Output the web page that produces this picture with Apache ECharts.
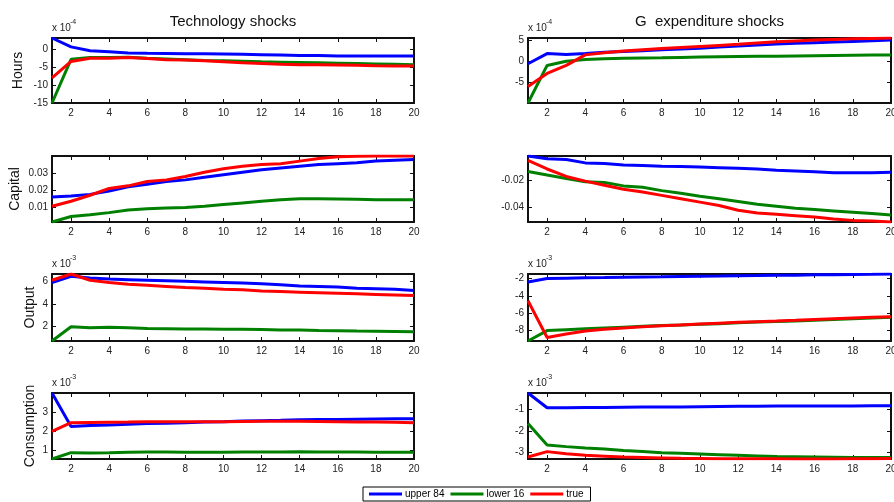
<!DOCTYPE html>
<html>
<head>
<meta charset="utf-8">
<script src="https://cdn.jsdelivr.net/npm/echarts@6/dist/echarts.min.js"></script>
<style>
html,body{margin:0;padding:0;background:#fff;}
#chart{width:894px;height:502px;}
</style>
</head>
<body>
<div id="chart"></div>
<script>
// ---------- data ----------
const periods = [1,2,3,4,5,6,7,8,9,10,11,12,13,14,15,16,17,18,19,20];
const seriesNames = ['upper 84', 'lower 16', 'true'];
const columnTitles = ['Technology shocks', 'G  expenditure shocks'];
const rowLabels = ['Hours', 'Capital', 'Output', 'Consumption'];
const rowExponents = ['-4', null, '-3', '-3'];
const xTicks = [2,4,6,8,10,12,14,16,18,20];

// Hours (x 10^-4)
const hoursTechUpper = [3.3,0.8,-0.3,-0.6,-0.9,-1.0,-1.05,-1.1,-1.15,-1.2,-1.3,-1.4,-1.5,-1.6,-1.65,-1.75,-1.8,-1.8,-1.8,-1.8];
const hoursTechLower = [-15.0,-2.7,-2.2,-2.2,-2.1,-2.4,-2.6,-2.8,-3.0,-3.1,-3.25,-3.4,-3.5,-3.6,-3.7,-3.8,-3.9,-4.0,-4.1,-4.2];
const hoursTechTrue  = [-7.9,-3.3,-2.4,-2.4,-2.2,-2.5,-2.8,-2.9,-3.1,-3.4,-3.7,-3.9,-4.1,-4.2,-4.25,-4.3,-4.4,-4.5,-4.55,-4.6];
const hoursGUpper = [-0.5,1.9,1.7,1.9,2.2,2.4,2.6,2.8,3.0,3.2,3.45,3.7,3.95,4.2,4.35,4.5,4.65,4.8,4.95,5.1];
const hoursGLower = [-9.8,-0.9,0.1,0.5,0.7,0.8,0.85,0.9,1.0,1.1,1.15,1.2,1.25,1.3,1.35,1.4,1.45,1.5,1.55,1.6];
const hoursGTrue  = [-5.9,-2.8,-0.9,1.6,2.1,2.5,2.8,3.1,3.35,3.6,3.85,4.1,4.4,4.7,4.9,5.1,5.25,5.4,5.5,5.6];

// Capital
const capTechUpper = [0.016,0.0165,0.0175,0.0195,0.022,0.0235,0.025,0.026,0.0275,0.029,0.0305,0.032,0.033,0.034,0.035,0.0355,0.036,0.037,0.0375,0.038];
const capTechLower = [0.0013,0.0045,0.0055,0.0068,0.0083,0.009,0.0095,0.0098,0.0105,0.0115,0.0125,0.0135,0.0143,0.015,0.0149,0.0148,0.0146,0.0144,0.0143,0.0143];
const capTechTrue  = [0.0105,0.0135,0.017,0.021,0.0225,0.025,0.026,0.028,0.0305,0.0325,0.034,0.035,0.0355,0.037,0.0385,0.0395,0.0398,0.040,0.040,0.040];
const capGUpper = [-0.0024,-0.0045,-0.005,-0.0075,-0.008,-0.009,-0.0095,-0.010,-0.0102,-0.0105,-0.011,-0.0115,-0.012,-0.013,-0.0135,-0.014,-0.0148,-0.0148,-0.0147,-0.0145];
const capGLower = [-0.0139,-0.0165,-0.019,-0.0215,-0.022,-0.0245,-0.0255,-0.028,-0.030,-0.0322,-0.034,-0.036,-0.038,-0.0395,-0.041,-0.042,-0.043,-0.044,-0.045,-0.046];
const capGTrue  = [-0.0056,-0.012,-0.0175,-0.021,-0.024,-0.027,-0.029,-0.0315,-0.034,-0.0365,-0.039,-0.0425,-0.0445,-0.0455,-0.0465,-0.0475,-0.049,-0.050,-0.0505,-0.0512];

// Output (x 10^-3)
const outTechUpper = [5.9,6.45,6.3,6.2,6.15,6.1,6.05,6.0,5.95,5.9,5.85,5.8,5.7,5.6,5.55,5.5,5.4,5.35,5.3,5.2];
const outTechLower = [0.74,2.0,1.9,1.95,1.9,1.85,1.83,1.8,1.8,1.78,1.78,1.75,1.72,1.7,1.67,1.65,1.62,1.6,1.58,1.55];
const outTechTrue  = [6.1,6.65,6.1,5.9,5.75,5.65,5.55,5.45,5.4,5.3,5.25,5.15,5.1,5.05,5.0,4.95,4.9,4.85,4.8,4.75];
const outGUpper = [-2.4,-2.0,-1.95,-1.9,-1.88,-1.85,-1.82,-1.8,-1.75,-1.72,-1.7,-1.67,-1.65,-1.62,-1.6,-1.57,-1.55,-1.52,-1.5,-1.47];
const outGLower = [-9.2,-8.0,-7.9,-7.8,-7.7,-7.6,-7.5,-7.42,-7.35,-7.27,-7.2,-7.1,-7.02,-6.95,-6.88,-6.8,-6.72,-6.63,-6.55,-6.47];
const outGTrue  = [-4.55,-8.8,-8.4,-8.05,-7.85,-7.7,-7.55,-7.45,-7.35,-7.25,-7.15,-7.05,-6.97,-6.9,-6.82,-6.72,-6.63,-6.55,-6.47,-6.4];

// Consumption (x 10^-3)
const consTechUpper = [4.0,2.25,2.3,2.33,2.36,2.4,2.42,2.45,2.48,2.5,2.53,2.55,2.57,2.6,2.61,2.62,2.63,2.64,2.65,2.65];
const consTechLower = [0.55,0.88,0.87,0.88,0.9,0.92,0.91,0.9,0.9,0.9,0.91,0.92,0.92,0.93,0.92,0.91,0.91,0.9,0.9,0.9];
const consTechTrue  = [2.0,2.45,2.46,2.47,2.48,2.5,2.5,2.5,2.5,2.5,2.51,2.52,2.52,2.52,2.51,2.5,2.49,2.48,2.47,2.45];
const consGUpper = [-0.25,-0.93,-0.93,-0.92,-0.92,-0.91,-0.9,-0.9,-0.89,-0.88,-0.87,-0.86,-0.86,-0.85,-0.85,-0.85,-0.85,-0.85,-0.84,-0.84];
const consGLower = [-1.65,-2.65,-2.72,-2.78,-2.83,-2.9,-2.95,-3.0,-3.03,-3.06,-3.09,-3.12,-3.15,-3.18,-3.19,-3.2,-3.21,-3.22,-3.22,-3.22];
const consGTrue  = [-3.2,-2.95,-3.05,-3.12,-3.16,-3.2,-3.22,-3.24,-3.26,-3.27,-3.28,-3.28,-3.28,-3.28,-3.29,-3.29,-3.29,-3.28,-3.28,-3.27];

// y tick labels per panel [row][col]
const yTicks = [
  [[-15,-10,-5,0], [-5,0,5]],
  [[0.01,0.02,0.03], [-0.04,-0.02]],
  [[2,4,6], [-8,-6,-4,-2]],
  [[1,2,3], [-3,-2,-1]]
];
const panelData = [
  [[hoursTechUpper,hoursTechLower,hoursTechTrue],[hoursGUpper,hoursGLower,hoursGTrue]],
  [[capTechUpper,capTechLower,capTechTrue],[capGUpper,capGLower,capGTrue]],
  [[outTechUpper,outTechLower,outTechTrue],[outGUpper,outGLower,outGTrue]],
  [[consTechUpper,consTechLower,consTechTrue],[consGUpper,consGLower,consGTrue]]
];

// ---------- layout / style ----------
const colors = ['#0000ff', '#008000', '#ff0000'];
const FONT = '"Liberation Sans", Arial, Helvetica, sans-serif';
const colLeft = [52, 528];
const colWidth = [362, 363];
const rowTop = [38, 156, 274, 393];
const rowHeight = [65, 66, 67, 66];
const ylabelX = [18, 15.5, 30, 30];

const grids = [], xAxes = [], yAxes = [], series = [], graphics = [];

function fmt(v){ return String(+v.toFixed(6)); }

for (let r = 0; r < 4; r++) {
  for (let c = 0; c < 2; c++) {
    const gi = grids.length;
    grids.push({left: colLeft[c], top: rowTop[r], width: colWidth[c], height: rowHeight[r],
                containLabel: false, outerBoundsMode: 'none', show: false});
    const d = panelData[r][c];
    const all = d[0].concat(d[1], d[2]);
    const ymin = Math.min.apply(null, all), ymax = Math.max.apply(null, all);
    const axisLine = {show: true, onZero: false, lineStyle: {color: '#111', width: 2}};
    const tickBase = {show: true, inside: true, length: 4, lineStyle: {color: '#111', width: 1}};
    // bottom x
    xAxes.push({gridIndex: gi, type: 'value', min: 1, max: 20, position: 'bottom',
      axisLine: axisLine, splitLine: {show: false},
      axisTick: Object.assign({customValues: xTicks}, tickBase),
      axisLabel: {customValues: xTicks, fontSize: 10, color: '#222', fontFamily: FONT, margin: 5, formatter: fmt}});
    // top x (box)
    xAxes.push({gridIndex: gi, type: 'value', min: 1, max: 20, position: 'top',
      axisLine: axisLine, splitLine: {show: false},
      axisTick: Object.assign({customValues: xTicks}, tickBase),
      axisLabel: {show: false}});
    const yt = yTicks[r][c];
    yAxes.push({gridIndex: gi, type: 'value', min: ymin, max: ymax, position: 'left',
      axisLine: axisLine, splitLine: {show: false},
      axisTick: Object.assign({customValues: yt}, tickBase),
      axisLabel: {customValues: yt, fontSize: 10, color: '#222', fontFamily: FONT, margin: 4, formatter: fmt}});
    yAxes.push({gridIndex: gi, type: 'value', min: ymin, max: ymax, position: 'right',
      axisLine: axisLine, splitLine: {show: false},
      axisTick: Object.assign({customValues: yt}, tickBase),
      axisLabel: {show: false}});
    for (let s = 0; s < 3; s++) {
      series.push({
        name: seriesNames[s], type: 'line', xAxisIndex: gi*2, yAxisIndex: gi*2,
        data: periods.map((p, i) => [p, d[s][i]]),
        symbol: 'none', showSymbol: false, clip: true,
        lineStyle: {color: colors[s], width: 3}, itemStyle: {color: colors[s]},
        z: 2 + s
      });
    }
    // exponent note
    if (rowExponents[r]) {
      graphics.push({type: 'text', left: colLeft[c], top: rowTop[r] - 15,
        style: {text: 'x 10', fontSize: 10, fill: '#222', fontFamily: FONT}});
      graphics.push({type: 'text', left: colLeft[c] + 18, top: rowTop[r] - 19,
        style: {text: rowExponents[r], fontSize: 7, fill: '#222', fontFamily: FONT}});
    }
  }
  // row label (left)
  graphics.push({type: 'text', x: ylabelX[r], y: rowTop[r] + rowHeight[r]/2, rotation: Math.PI/2,
    style: {text: rowLabels[r], fontSize: 14, fill: '#111', fontFamily: FONT, align: 'center', verticalAlign: 'middle'}});
}
// column titles
for (let c = 0; c < 2; c++) {
  graphics.push({type: 'text', x: colLeft[c] + colWidth[c]/2, y: 22,
    style: {text: columnTitles[c], fontSize: 15, fill: '#111', fontFamily: FONT, align: 'center', verticalAlign: 'middle'}});
}

const chart = echarts.init(document.getElementById('chart'), null, {renderer: 'canvas'});
chart.setOption({
  animation: false,
  backgroundColor: '#fff',
  grid: grids,
  xAxis: xAxes,
  yAxis: yAxes,
  series: series,
  graphic: graphics,
  legend: {
    data: seriesNames, left: 363, top: 487, orient: 'horizontal',
    icon: 'rect', itemWidth: 33, itemHeight: 3, itemGap: 6,
    padding: [2, 7, 2, 6], borderColor: '#000', borderWidth: 1, backgroundColor: '#fff',
    textStyle: {fontSize: 10, color: '#000', fontFamily: FONT, padding: [0, 0, 0, -2]}
  }
});
</script>
</body>
</html>
